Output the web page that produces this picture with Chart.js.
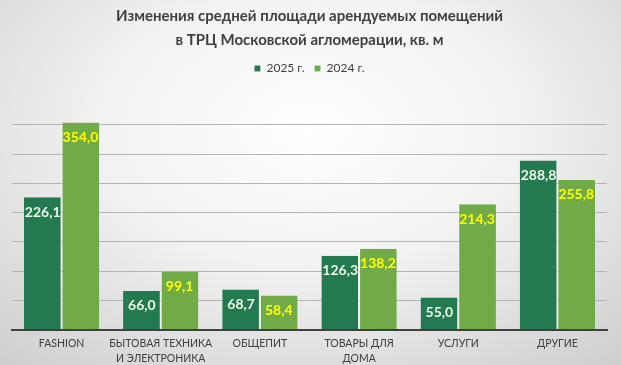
<!DOCTYPE html>
<html>
<head>
<meta charset="utf-8">
<script src="https://cdn.jsdelivr.net/npm/chart.js@4.4.1/dist/chart.umd.min.js"></script>
<style>
  html, body { margin: 0; padding: 0; }
  body {
    width: 621px; height: 365px; overflow: hidden;
    background: radial-gradient(ellipse 75% 85% at 50% 35%, #ffffff 0%, #f2f2f2 45%, #cfcfcf 100%);
  }
  #wrap { position: relative; width: 621px; height: 365px; }
</style>
</head>
<body>
<div id="wrap"><canvas id="areaChart"></canvas></div>
<script>
// Data
const categories = [
  "FASHION",
  ["БЫТОВАЯ ТЕХНИКА", "И ЭЛЕКТРОНИКА"],
  "ОБЩЕПИТ",
  ["ТОВАРЫ ДЛЯ", "ДОМА"],
  "УСЛУГИ",
  "ДРУГИЕ"
];
const values2025 = [226.1, 66.0, 68.7, 126.3, 55.0, 288.8];
const values2024 = [354.0, 99.1, 58.4, 138.2, 214.3, 255.8];
const seriesNames = ["2025 г.", "2024 г."];

const fmt = (v) => v.toFixed(1).replace(".", ",");

// value labels inside the top of each bar
const barLabels = {
  id: "barLabels",
  afterDatasetsDraw(chart) {
    const ctx = chart.ctx;
    ctx.save();
    ctx.font = "bold 14px Lato, 'Open Sans', sans-serif";
    ctx.textAlign = "center";
    ctx.textBaseline = "middle";
    chart.data.datasets.forEach((ds, i) => {
      const meta = chart.getDatasetMeta(i);
      meta.data.forEach((bar, j) => {
        ctx.fillStyle = i === 0 ? "#eef7e8" : "#ffff00";
        ctx.fillText(fmt(ds.data[j]), bar.x, bar.y + 15);
      });
    });
    ctx.restore();
  }
};

// extra room under the legend
const legendSpacer = {
  id: "legendSpacer",
  beforeInit(chart) {
    const fit = chart.legend.fit;
    chart.legend.fit = function () {
      fit.call(this);
      this.height += 11;
    };
  }
};

const ctx = document.getElementById("areaChart").getContext("2d");
const areaChart = new Chart(ctx, {
  type: "bar",
  data: {
    labels: categories,
    datasets: [
      {
        label: seriesNames[0],
        data: values2025,
        backgroundColor: "#237a50",
        borderColor: "rgba(255,255,255,0.6)",
        borderWidth: { left: 0, right: 1, top: 0, bottom: 0 },
        categoryPercentage: 0.76,
        barPercentage: 1.0
      },
      {
        label: seriesNames[1],
        data: values2024,
        backgroundColor: "#70ab48",
        borderColor: "rgba(255,255,255,0.6)",
        borderWidth: { left: 1, right: 0, top: 0, bottom: 0 },
        categoryPercentage: 0.76,
        barPercentage: 1.0
      }
    ]
  },
  options: {
    responsive: true,
    maintainAspectRatio: false,
    animation: false,
    layout: { padding: { left: 12, right: 14, top: 0, bottom: -8 } },
    plugins: {
      title: {
        display: true,
        text: ["Изменения средней площади арендуемых помещений", "в ТРЦ Московской агломерации, кв. м"],
        color: "#404040",
        font: { family: "Lato, 'Open Sans', sans-serif", size: 15, weight: "bold", lineHeight: 1.55 },
        padding: { top: 5, bottom: 1 }
      },
      legend: {
        position: "top",
        labels: {
          color: "#404040",
          font: { family: "Lato, 'Open Sans', sans-serif", size: 12 },
          boxWidth: 6,
          boxHeight: 6,
          padding: 10
        }
      },
      tooltip: { enabled: false }
    },
    scales: {
      x: {
        grid: { display: false, drawTicks: false },
        border: { color: "#404040", width: 2 },
        ticks: {
          color: "#404040",
          font: { family: "Lato, 'Open Sans', sans-serif", size: 10.5, lineHeight: 1.4 },
          maxRotation: 0,
          autoSkip: false,
          padding: 7
        }
      },
      y: {
        min: 0,
        max: 400,
        ticks: { stepSize: 50, display: false },
        border: { display: false },
        grid: {
          color: (c) => (c.tick.value === 400 || c.tick.value === 0) ? "rgba(0,0,0,0)" : "#b4b4b4",
          drawTicks: false
        }
      }
    }
  },
  plugins: [barLabels, legendSpacer]
});
</script>
</body>
</html>
